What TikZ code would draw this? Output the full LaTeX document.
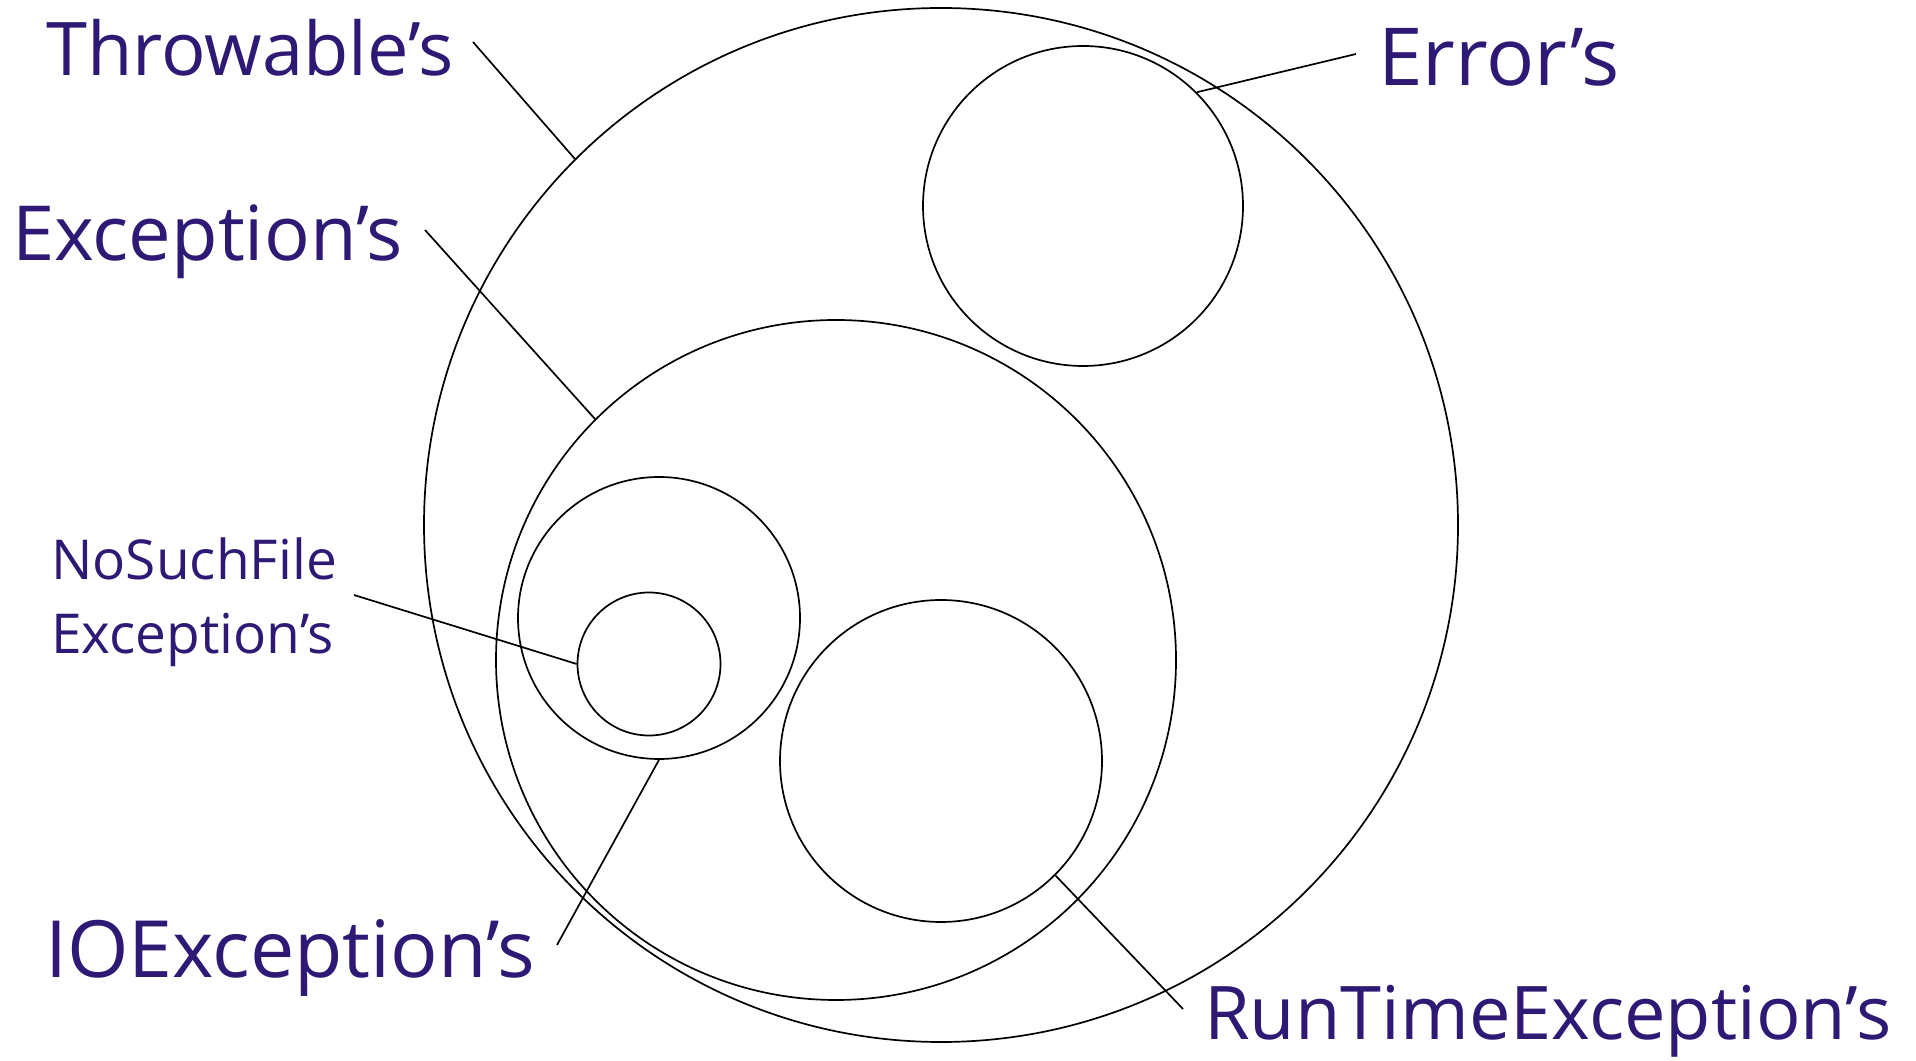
\documentclass[tikz,border=0pt]{standalone}
\usepackage{fontspec}
\setmainfont{Open Sans}
\usepackage{xcolor}
\usepackage{tikz}
\usetikzlibrary{positioning,calc}

\definecolor{labelink}{HTML}{2E1A75}

\begin{document}
\begin{tikzpicture}[x=1pt,y=1pt,
    set/.style={circle,draw,line width=1.7pt,inner sep=0pt},
    setname/.style={text=labelink,inner sep=0pt,anchor=base west,
      font=\fontsize{74}{74}\selectfont},
    pointer/.style={line width=1.7pt}]
  \useasboundingbox[fill=white] (0,0) rectangle (1916,1060);
  % the sets
  \node[set,minimum size=1034] (throwable) at (941,535) {};
  \node[set,minimum size=320] (error) at (1083,854) {};
  \node[set,minimum size=680] (exception) at (836,400) {};
  \node[set,minimum size=282] (ioexc) at (659,442) {};
  \node[set,minimum size=143] (nosuchfile) at (649,396) {};
  \node[set,minimum size=322] (runtime) at (941,299) {};
  % the names
  \node[setname] (throwlbl) at (46,984) {Throwable's};
  \node[setname,font=\fontsize{80}{80}\selectfont] (errlbl) at (1378,974) {Error's};
  \node[setname,font=\fontsize{76}{76}\selectfont] (exclbl) at (12,799) {Exception's};
  \node[setname,align=left,font=\fontsize{55}{74}\selectfont] (nsflbl) at (51,406)
    {NoSuchFile\\Exception's};
  \node[setname,font=\fontsize{79}{79}\selectfont] (iolbl) at (45,82) {IOException's};
  \node[setname] (rtlbl) at (1204,21) {RunTimeException's};
  % free ends of the pointers
  \coordinate (throwtip) at (473,1018);
  \coordinate (errtip) at (1356,1006);
  \coordinate (exctip) at (425,830);
  \coordinate (nsftip) at (354,465);
  \coordinate (iotip) at (557,115);
  \coordinate (rttip) at (1183,51);
  \draw[pointer] (throwtip) -- (throwable.135);
  \draw[pointer] (errtip) -- (error.45);
  \draw[pointer] (exctip) -- (exception.135);
  \draw[pointer] (nsftip) -- (nosuchfile.180);
  \draw[pointer] (iotip) -- (ioexc.270);
  \draw[pointer] (rttip) -- (runtime.-45);
\end{tikzpicture}
\end{document}
